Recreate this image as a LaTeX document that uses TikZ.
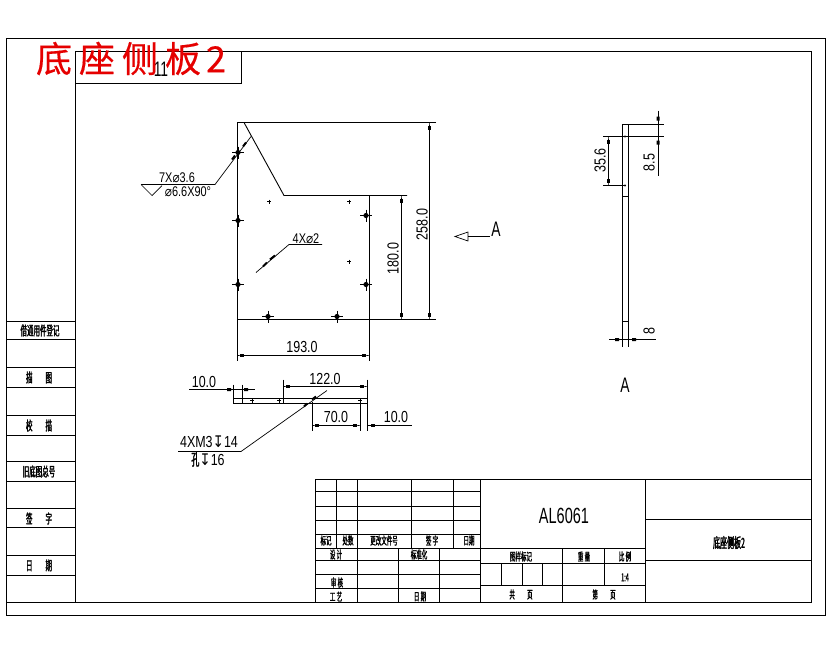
\documentclass[tikz,border=0pt]{standalone}
\usepackage{fontspec}
\usepackage{xcolor}
\usepackage{tikz}
\usetikzlibrary{arrows.meta}
\setmainfont[FakeStretch=0.78]{Liberation Sans}
\newfontfamily\tallfont[FakeStretch=0.66]{Liberation Sans}
\newfontfamily\cjk[FakeStretch=0.5,FakeBold=1.5]{Noto Sans CJK SC}
\newfontfamily\bigcjk[FakeBold=0.4]{Noto Sans CJK SC}
\newfontfamily\symb[FakeStretch=0.85]{DejaVu Sans}
\newcommand{\dia}{{\symb ⌀}}
\newcommand{\dep}{{\symb ↧}}

\begin{document}
\begin{tikzpicture}[x=1pt,y=-1pt,line width=0.9pt,inner sep=0pt,
        dim/.style={line width=0.8pt,{Rectangle[length=3pt,width=0.8pt] Rectangle[length=4pt,width=3pt]}-{Rectangle[length=4pt,width=3pt] Rectangle[length=3pt,width=0.8pt]}},
        thinline/.style={line width=0.7pt},
        num/.style={font=\fontsize{16}{16}\selectfont},
        note/.style={font=\fontsize{14}{14}\selectfont},
        tall/.style={font=\tallfont\fontsize{21}{21}\selectfont},
        cnlabel/.style={font=\cjk\fontsize{13}{13}\selectfont},
        cnsmall/.style={font=\cjk\fontsize{11}{11}\selectfont}]
    \useasboundingbox (0,0.5) rectangle (830,654.5);
    \fill [white] (0,0.5) rectangle (830,654.5);

    % frames
    \draw (6,39) rectangle (825,616);
    \draw (75,52) rectangle (811,603);
    \draw (6,603) -- (75,603);
    \draw (75,84) -| (241,52);

    % left column
    \foreach \y in {322,340,368,388,416,436,462,482,509,528,556,576}
        \draw (6,\y) -- (75,\y);
    \node [cnlabel] (borrow) at (40,331) {借通用件登记};
    \node [cnlabel] (trace) at (39,378) {描\quad 图};
    \node [cnlabel] (check) at (39,426) {校\quad 描};
    \node [cnlabel] (oldno) at (39,472) {旧底图总号};
    \node [cnlabel] (sign) at (39,519) {签\quad 字};
    \node [cnlabel] (date) at (39,566) {日\quad 期};

    % title block
    \draw (315,480) rectangle (811,603);
    \foreach \y in {492,507,521,535,549}
        \draw (315,\y) -- (480,\y);
    \foreach \y in {561,575,589}
        \draw (315,\y) -- (480,\y);
    \foreach \x in {336,411,453}
        \draw (\x,480) -- (\x,549);
    \draw (357,480) -- (357,603);
    \draw (398,549) -- (398,603);
    \draw (439,549) -- (439,603);
    \draw (480,480) -- (480,603);
    \draw (645,480) -- (645,603);
    \draw (480,549) -- (645,549);
    \draw (480,564) -- (645,564);
    \draw (480,586) -- (645,586);
    \draw (562,549) -- (562,603);
    \draw (604,549) -- (604,586);
    \foreach \x in {501,522,542}
        \draw (\x,564) -- (\x,586);
    \draw (645,520) -- (811,520);
    \draw (645,561) -- (811,561);

    \node [cnsmall] (mk) at (326,541) {标记};
    \node [cnsmall] (cnt) at (348,541) {处数};
    \node [cnsmall] (chg) at (384,541) {更改文件号};
    \node [cnsmall] (sg) at (432,541) {签\ 字};
    \node [cnsmall] (dt) at (469,541) {日期};
    \node [cnsmall] (des) at (336,555) {设\ 计};
    \node [cnsmall] (std) at (419,555) {标准化};
    \node [cnsmall] (rev) at (337,583) {审\ 核};
    \node [cnsmall] (proc) at (336,597) {工\ 艺};
    \node [cnsmall] (dat) at (420,597) {日\ 期};
    \node [cnsmall] (style) at (521,557) {图样标记};
    \node [cnsmall] (wt) at (584,557) {重\ 量};
    \node [cnsmall] (rat) at (625,557) {比\ 例};
    \node [cnsmall] (tot) at (521,595) {共\quad\ 页};
    \node [cnsmall] (pg) at (604,595) {第\quad\ 页};
    \node [cnsmall] (ratio) at (625,578) {1:4};
    \node [font=\tallfont\fontsize{22}{22}\selectfont] (mat) at (564,516) {AL6061};
    \node [font=\cjk\fontsize{14}{14}\selectfont] (name) at (729,543) {底座侧板2};

    % red title and sheet number
    \node [tall] (sheet) at (161,70) {11};
    \node [text=red!90!black,font=\bigcjk\fontsize{36}{36}\selectfont] (title) at (131,59) {底\hspace{7pt}座\hspace{7pt}侧\hspace{7pt}板\hspace{5pt}2};

    % front view
    \draw (436,123) -- (237,123) -- (237,361);
    \draw (244,123) -- (284,196) -- (407,196);
    \draw (369,196) -- (369,361);
    \draw (237,320) -- (436,320);
    \draw [dim] (237,356) -- (369,356);
    \draw [dim] (401,196) -- (401,320);
    \draw [dim] (429,123) -- (429,320);
    \node [num] (w) at (302,347) {193.0};
    \node [num,rotate=90] (h) at (393,259) {180.0};
    \node [num,rotate=90] (ht) at (422,225) {258.0};

    % holes
    \foreach \x/\y in {238/153,238/221,238/285,366/216,366/285,268/317,337/317}{
        \fill (\x,\y) circle (2.6);
        \draw [thinline] (\x-6,\y) -- (\x+6,\y) (\x,\y-6) -- (\x,\y+6);
    }
    \foreach \x/\y in {269/202,349/202,349/262}
        \draw [thinline] (\x-2,\y) -- (\x+2,\y) (\x,\y-2) -- (\x,\y+2);

    % hole notes
    \coordinate (csktail) at (251,137);
    \coordinate (cskelbow) at (215,185);
    \draw [thinline] (141,185) -- (cskelbow) -- (csktail);
    \draw [line width=2pt] (243,147) -- (246,143) (232,160) -- (235,156);
    \draw [thinline] (141,185) -- (152,196) -- (162,186);
    \node [note] (csk) at (177,178) {7X\dia3.6};
    \node [note] (cskb) at (188,192) {\dia6.6X90°};
    \coordinate (drillend) at (256,273);
    \coordinate (drillelbow) at (289,245);
    \draw [thinline] (drillend) -- (drillelbow) -- (322,245);
    \draw [line width=2pt] (263,267) -- (267,263) (270,260) -- (275,256);
    \node [note] (drill) at (306,239) {4X\dia2};

    % view arrow
    \coordinate (arrowtip) at (455,237);
    \draw [thinline] (arrowtip) -- (468,232.5) -- (468,241.5) -- cycle;
    \draw [thinline] (468,237) -- (490,237);
    \node [tall] (viewa) at (496,230) {A};

    % side view
    \draw (622,347) -- (622,125) -- (664,125);
    \draw (628,125) -- (628,347);
    \draw (603,137) -- (664,137);
    \draw (603,186) -- (625,186);
    \draw (622,197) -- (628,197) (622,322) -- (628,322);
    \fill (625,137) circle (1.2) (625,186) circle (1.2);
    \draw [dim] (608,137) -- (608,186);
    \draw [thinline] (658,111) -- (658,176);
    \fill (656.5,117) rectangle (659.5,121) (656.5,141) rectangle (659.5,145);
    \draw [thinline] (609,340) -- (656,340);
    \fill (615,338.5) rectangle (619,341.5) (632,338.5) rectangle (636,341.5);
    \node [num,rotate=90] (ds) at (600,161) {35.6};
    \node [num,rotate=90] (de) at (649,163) {8.5};
    \node [num,rotate=90] (db) at (649,332) {8};
    \node [tall] (sidea) at (625,386) {A};

    % bottom view
    \draw (233,385) -- (233,404) -- (367,404);
    \draw (233,399) -- (367,399);
    \draw (242,385) -- (242,404);
    \draw (283,380) -- (283,404);
    \draw (367,380) -- (367,431);
    \draw (360,399) -- (360,431);
    \draw (312,402) -- (312,431);
    \draw [thinline] (189,390) -- (255,390);
    \fill (227,388.5) rectangle (231,391.5) (244,388.5) rectangle (248,391.5);
    \draw [dim] (283,387) -- (367,387);
    \draw [dim] (312,426) -- (360,426);
    \draw [thinline] (367,426) -- (412,426);
    \fill (371,424.5) rectangle (375,427.5);
    \node [num] (ba) at (204,382) {10.0};
    \node [num] (bb) at (325,379) {122.0};
    \node [num] (bc) at (336,417) {70.0};
    \node [num] (bd) at (396,417) {10.0};
    \foreach \x in {252,279,360}
        \draw [thinline] (\x-2,401) -- (\x+2,401) (\x,399) -- (\x,403);

    % tapped hole note
    \coordinate (tapend) at (327,391);
    \coordinate (tapelbow) at (241,452);
    \draw [thinline] (178,452) -- (tapelbow) -- (tapend);
    \draw [line width=2pt] (304,407) -- (307,404) (312,400) -- (316,397);
    \node [num] (tapa) at (209,442) {4XM3\dep14};
    \node [num] (tapb) at (208,460) {{\cjk 孔}\dep16};
\end{tikzpicture}
\end{document}
